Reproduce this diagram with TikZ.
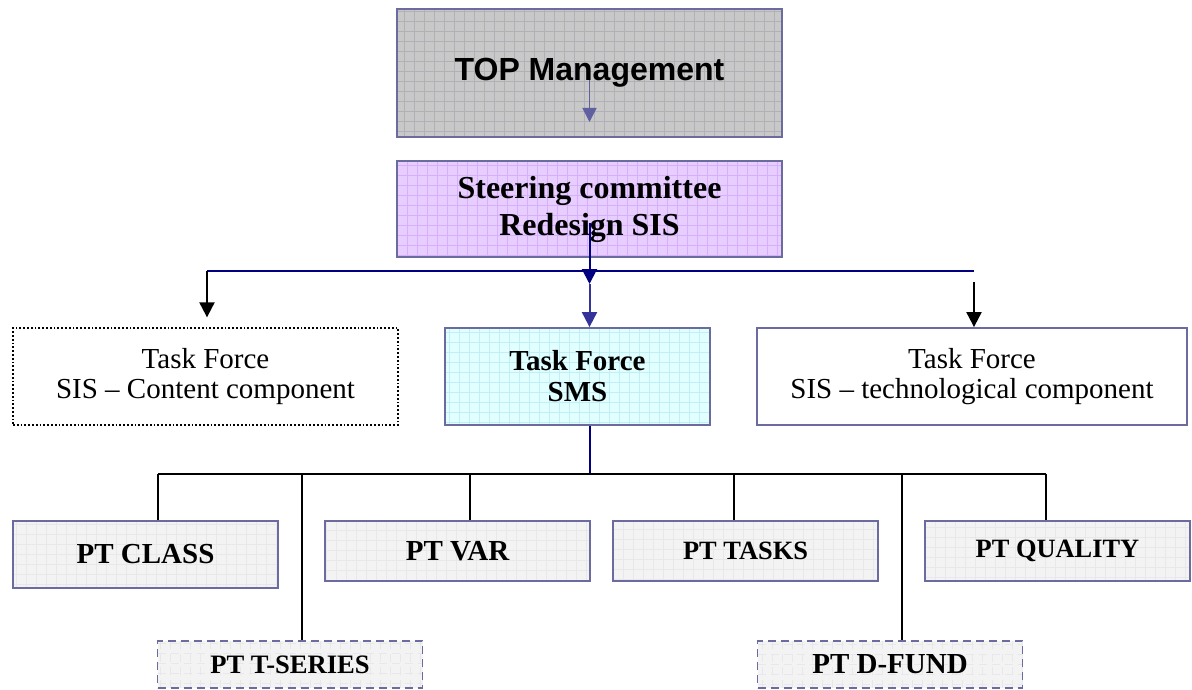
\documentclass[tikz,border=0pt]{standalone}
\usepackage{fontspec}
\setmainfont{Liberation Serif}
\setsansfont{Liberation Sans}
\usetikzlibrary{arrows.meta}
\definecolor{107_107_160}{RGB}{107, 107, 160}
\definecolor{200_200_200}{RGB}{200, 200, 200}
\definecolor{176_176_182}{RGB}{176, 176, 182}
\definecolor{232_206_255}{RGB}{232, 206, 255}
\definecolor{214_176_252}{RGB}{214, 176, 252}
\definecolor{226_255_255}{RGB}{226, 255, 255}
\definecolor{194_238_248}{RGB}{194, 238, 248}
\definecolor{243_243_243}{RGB}{243, 243, 243}
\definecolor{232_232_235}{RGB}{232, 232, 235}
\definecolor{0_0_128}{RGB}{0, 0, 128}
\definecolor{51_51_153}{RGB}{51, 51, 153}
\definecolor{96_96_160}{RGB}{96, 96, 160}

\begin{document}
\begin{tikzpicture}[
        x=1pt, y=-1pt,
        box/.style={draw=107_107_160, line width=1.8pt, align=center, inner sep=0pt},
        gridfill/.style 2 args={fill=#1, path picture={
            \draw[draw=#2, line width=0.5pt] (path picture bounding box.south west)
                grid[step=10pt] (path picture bounding box.north east);}},
        topbox/.style={box, gridfill={200_200_200}{176_176_182},
            minimum width=385pt, minimum height=128pt,
            font=\sffamily\bfseries\fontsize{32}{36}\selectfont},
        steerbox/.style={box, gridfill={232_206_255}{214_176_252},
            minimum width=385pt, minimum height=96pt,
            font=\bfseries\fontsize{32}{37}\selectfont},
        taskbox/.style={box, minimum height=97pt,
            font=\fontsize{29}{30}\selectfont},
        smsbox/.style={box, gridfill={226_255_255}{194_238_248},
            minimum width=265pt, minimum height=97pt,
            font=\bfseries\fontsize{29}{31}\selectfont},
        ptbox/.style={box, gridfill={243_243_243}{232_232_235},
            minimum width=265pt, minimum height=60pt,
            font=\bfseries\fontsize{29}{30}\selectfont},
        ptdash/.style={ptbox, minimum height=47pt, dash pattern=on 8pt off 5pt},
        navyline/.style={draw=0_0_128, line width=2pt},
        treeline/.style={draw=black, line width=2pt},
        head/.style={-{Triangle[length=15pt, width=15pt]}}
    ]
    \useasboundingbox (0,0) rectangle (1192,690);

    \node[topbox] (top) at (589.5,73) {TOP Management};
    \node[steerbox] (steer) at (589.5,209) {Steering committee\\Redesign SIS};

    \node[taskbox, draw=black, dotted, line width=1.3pt, minimum width=385pt]
        (tfcont) at (205.5,376.5) {Task Force\\SIS -- Content component};
    \node[smsbox] (tfsms) at (577.5,376.5) {Task Force\\SMS};
    \node[taskbox, minimum width=430pt] (tftech) at (972,376.5)
        {Task Force\\SIS -- technological component};

    \node[ptbox, minimum height=67pt] (pclass) at (145.5,554.5) {PT CLASS};
    \node[ptbox] (pvar) at (457.5,551) {PT VAR};
    \node[ptbox, font=\bfseries\fontsize{26.4}{30}\selectfont] (ptasks) at (745.5,551) {PT TASKS};
    \node[ptbox, font=\bfseries\fontsize{26.4}{30}\selectfont] (pqual) at (1057.5,551) {PT QUALITY};
    \node[ptdash, font=\bfseries\fontsize{26.6}{30}\selectfont] (ptser) at (290,664.5) {PT T-SERIES};
    \node[ptdash] (pdfund) at (890,664.5) {PT D-FUND};

    \coordinate (split) at (589.5,284);
    \coordinate (busL) at (207,271);
    \coordinate (busR) at (974,271);
    \coordinate (lbus) at (589.5,474);

    \draw[draw=96_96_160, line width=1.5pt, -{Triangle[length=14pt, width=14pt]}]
        ([yshift=-7pt]top.center) -- ([yshift=-49pt]top.center);

    \draw[navyline] (busL) -- (busR);
    \draw[navyline, head] ([yshift=-14pt]steer.center) -- (split);
    \draw[draw=51_51_153, line width=2pt, head] (split) -- (split |- tfsms.north);
    \draw[treeline, head, shorten >=10pt] (busL) -- (busL |- tfcont.north);
    \draw[treeline, head] ([yshift=-11pt]busR) -- (busR |- tftech.north);

    \draw[navyline] (lbus |- tfsms.south) -- (lbus);
    \draw[treeline] ([xshift=12.5pt]pclass.north |- lbus) -- ([xshift=-11.5pt]pqual.north |- lbus);
    \foreach \n/\dx in {pclass/12.5, ptser/12, pvar/12.5, ptasks/-11.5, pdfund/12, pqual/-11.5}
        \draw[treeline] ([xshift=\dx pt]\n.north |- lbus) -- ([xshift=\dx pt]\n.north);
\end{tikzpicture}
\end{document}
